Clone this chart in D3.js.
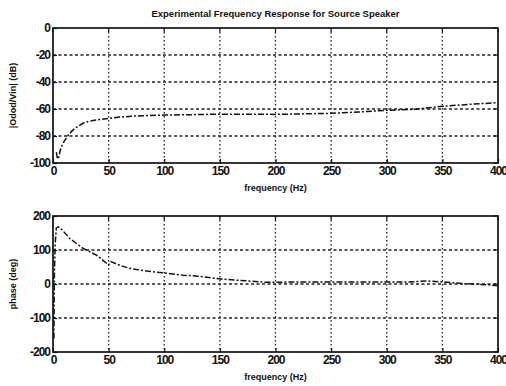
<!DOCTYPE html>
<html>
<head>
<meta charset="utf-8">
<script src="https://cdn.jsdelivr.net/npm/d3@7"></script>
<style>
  html, body { margin: 0; padding: 0; background: #fff; }
  svg { display: block; }
  text { font-family: "Liberation Sans", Arial, sans-serif; font-weight: bold; fill: #111; }
</style>
</head>
<body>
<svg id="chart" width="506" height="386"></svg>
<script>
// Measured speaker response: frequency (Hz) vs magnitude (dB)
const magFreq = [3, 4, 5, 7, 10, 14, 18, 22, 27, 32, 36, 42, 50, 60, 72, 85, 100, 125, 150, 175, 200, 225, 250, 275, 300, 325, 350, 375, 400];
const magDb   = [-92, -97, -96, -89, -84, -79, -75.5, -73, -70.6, -69.2, -68.6, -67.8, -67, -66, -65.3, -64.9, -64.5, -64.2, -63.8, -63.8, -64, -63.6, -63.2, -62.2, -61, -60.2, -58, -56.5, -55.3];

// Phase response: frequency (Hz) vs phase (deg)
const phaseFreq = [0.8, 1.2, 2, 3, 5, 8, 15, 27, 39, 50, 52, 60, 69, 84, 99, 117, 130, 153, 175, 192, 225, 250, 275, 300, 320, 336, 350, 370, 390, 400];
const phaseDeg  = [-160, 20, 120, 165, 168, 160, 134, 105, 85, 56, 66, 55, 46, 38, 33, 26, 23, 14, 9, 5, 6, 6, 6, 6, 6, 9, 6, 1, -2, -5];

const freqTicks = [0, 50, 100, 150, 200, 250, 300, 350, 400];
const magTicks = [0, -20, -40, -60, -80, -100];
const phaseTicks = [200, 100, 0, -100, -200];

const titleText = "Experimental Frequency Response for Source Speaker";
const xLabelText = "frequency (Hz)";
const magLabelText = "|Odod/Vin| (dB)";
const phaseLabelText = "phase (deg)";

const svg = d3.select("#chart");
const left = 53, right = 498;

function panel(cfg) {
  const x = d3.scaleLinear().domain([0, 400]).range([left, right]);
  const y = d3.scaleLinear().domain(cfg.yDomain).range([cfg.bottom, cfg.top]);
  const g = svg.append("g");

  // vertical grid (dotted)
  g.append("g").selectAll("line").data(freqTicks.slice(1, -1)).join("line")
    .attr("x1", d => x(d)).attr("x2", d => x(d))
    .attr("y1", cfg.top).attr("y2", cfg.bottom)
    .attr("stroke", "#222").attr("stroke-width", 1.3)
    .attr("stroke-dasharray", "1.5,2.5");

  // horizontal grid (dashed)
  g.append("g").selectAll("line").data(cfg.yTicks.slice(1, -1)).join("line")
    .attr("x1", left).attr("x2", right)
    .attr("y1", d => y(d)).attr("y2", d => y(d))
    .attr("stroke", "#222").attr("stroke-width", 1.6)
    .attr("stroke-dasharray", "3,2.5");

  // data line
  const pts = cfg.xs.map((f, i) => [f, cfg.ys[i]]);
  g.append("path").datum(pts)
    .attr("fill", "none").attr("stroke", "#111").attr("stroke-width", 1.5)
    .attr("stroke-dasharray", "6,2,2,2")
    .attr("d", d3.line().x(d => x(d[0])).y(d => y(d[1])));

  // axes
  const fmt = d => String(d);
  const xAxis = d3.axisBottom(x).tickValues(freqTicks).tickSize(-4).tickPadding(3).tickFormat(fmt);
  const yAxis = d3.axisLeft(y).tickValues(cfg.yTicks).tickSize(-4).tickPadding(3).tickFormat(fmt);
  const xa = g.append("g").attr("transform", `translate(0,${cfg.bottom})`).call(xAxis);
  const ya = g.append("g").attr("transform", `translate(${left},0)`).call(yAxis);
  [xa, ya].forEach(a => {
    a.select(".domain").remove();
    a.selectAll("line").attr("stroke", "#111").attr("stroke-width", 1.2);
    a.selectAll("text").attr("font-size", 12).attr("letter-spacing", -1)
      .style("font-family", "'Liberation Sans', Arial, sans-serif").style("font-weight", "bold").attr("fill", "#111");
  });
  // top/right ticks
  g.append("g").selectAll("line").data(freqTicks).join("line")
    .attr("x1", d => x(d)).attr("x2", d => x(d)).attr("y1", cfg.top).attr("y2", cfg.top + 4)
    .attr("stroke", "#111").attr("stroke-width", 1.2);
  g.append("g").selectAll("line").data(cfg.yTicks).join("line")
    .attr("x1", right).attr("x2", right - 4).attr("y1", d => y(d)).attr("y2", d => y(d))
    .attr("stroke", "#111").attr("stroke-width", 1.2);

  // frame
  g.append("rect").attr("x", left).attr("y", cfg.top)
    .attr("width", right - left).attr("height", cfg.bottom - cfg.top)
    .attr("fill", "none").attr("stroke", "#111").attr("stroke-width", 1.7);

  // labels
  g.append("text").attr("x", (left + right) / 2).attr("y", cfg.bottom + 28)
    .attr("text-anchor", "middle").attr("font-size", 9).text(xLabelText);
  g.append("text").attr("transform", `translate(16,${(cfg.top + cfg.bottom) / 2}) rotate(-90)`)
    .attr("text-anchor", "middle").attr("font-size", 9).text(cfg.yLabel);
}

svg.append("text").attr("x", (left + right) / 2).attr("y", 17)
  .attr("text-anchor", "middle").attr("font-size", 9.5).text(titleText);

panel({ top: 28, bottom: 163, yDomain: [-100, 0], yTicks: magTicks, xs: magFreq, ys: magDb, yLabel: magLabelText });
panel({ top: 216, bottom: 352, yDomain: [-200, 200], yTicks: phaseTicks, xs: phaseFreq, ys: phaseDeg, yLabel: phaseLabelText });
</script>
</body>
</html>
